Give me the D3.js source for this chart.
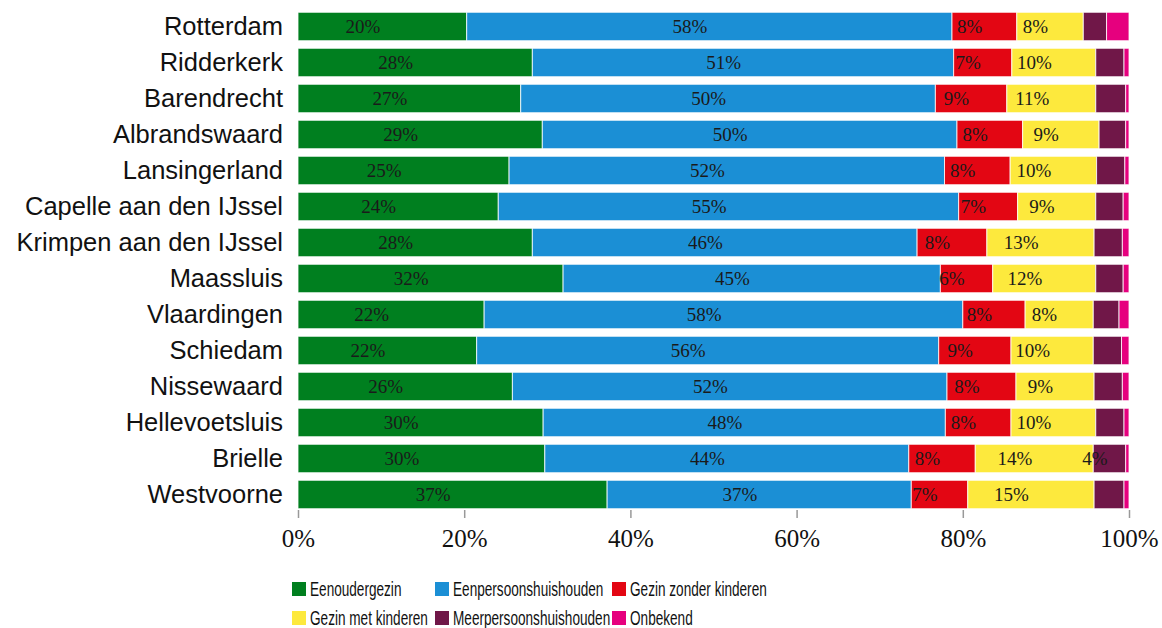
<!DOCTYPE html>
<html>
<head>
<meta charset="utf-8">
<script src="https://cdn.jsdelivr.net/npm/d3@7"></script>
<style>
  html, body { margin: 0; padding: 0; background: #fff; }
  svg { display: block; }
</style>
</head>
<body>
<svg id="chart" width="1162" height="628"></svg>
<script>
const categories = ["Rotterdam","Ridderkerk","Barendrecht","Albrandswaard","Lansingerland","Capelle aan den IJssel","Krimpen aan den IJssel","Maassluis","Vlaardingen","Schiedam","Nissewaard","Hellevoetsluis","Brielle","Westvoorne"];
const seriesNames = ["Eenoudergezin","Eenpersoonshuishouden","Gezin zonder kinderen","Gezin met kinderen","Meerpersoonshuishouden","Onbekend"];
const seriesColors = ["#007f1f","#1b8fd5","#e30613","#fde93d","#701748","#e6007e"];
const eenoudergezin = [20.3,28.2,26.8,29.4,25.4,24.1,28.2,31.9,22.4,21.5,25.8,29.5,29.7,37.2];
const eenpersoons   = [58.4,50.7,49.9,49.9,52.4,55.4,46.3,45.4,57.6,55.6,52.3,48.4,43.8,36.6];
const zonderKinderen= [7.8,7.0,8.6,7.9,7.9,7.1,8.4,6.3,7.5,8.7,8.3,7.9,8.0,6.8];
const metKinderen   = [8.0,10.1,10.7,9.2,10.4,9.4,12.9,12.4,8.2,9.9,9.4,10.2,14.2,15.2];
const meerpersoons  = [2.8,3.4,3.6,3.2,3.4,3.3,3.4,3.3,3.1,3.4,3.4,3.4,3.9,3.6];
const onbekend      = [2.7,0.6,0.4,0.4,0.5,0.7,0.8,0.7,1.2,0.9,0.8,0.6,0.4,0.6];
const tickValues = [0,20,40,60,80,100];
const labelThreshold = 3.8;

const seriesData = [eenoudergezin, eenpersoons, zonderKinderen, metKinderen, meerpersoons, onbekend];
const table = categories.map((c, i) => {
  const row = { cat: c };
  seriesNames.forEach((s, k) => row[s] = seriesData[k][i]);
  return row;
});
const stacked = d3.stack().keys(seriesNames)(table);

const svg = d3.select("#chart");
const x = d3.scaleLinear().domain([0, 100]).range([298, 1129]);
const y = d3.scaleBand().domain(categories).range([8.5, 512.5]).paddingInner(0.21).paddingOuter(0.105);
const color = d3.scaleOrdinal().domain(seriesNames).range(seriesColors);

const groups = svg.append("g").selectAll("g").data(stacked).join("g")
  .attr("fill", d => color(d.key));
groups.selectAll("rect").data(d => d).join("rect")
  .attr("x", d => x(d[0]))
  .attr("y", d => y(d.data.cat))
  .attr("width", d => Math.max(0, x(d[1]) - x(d[0])))
  .attr("height", y.bandwidth())
  .attr("stroke", "#fff")
  .attr("stroke-width", 1)
  .attr("stroke-opacity", 0.8);

// value labels
const labelG = svg.append("g");
stacked.forEach(s => {
  s.forEach(d => {
    const v = d.data[s.key];
    if (v >= labelThreshold) {
      labelG.append("text")
        .attr("x", (x(d[0]) + x(d[1])) / 2 - 2)
        .attr("y", y(d.data.cat) + y.bandwidth() / 2 + 6.5)
        .attr("text-anchor", "end")
        .attr("font-family", "'Liberation Serif', 'DejaVu Serif', serif")
        .attr("font-size", 19)
        .attr("fill", "#1a1a1a")
        .text(Math.round(v) + "%");
    }
  });
});

// category labels
svg.append("g").selectAll("text").data(categories).join("text")
  .attr("x", 283)
  .attr("y", d => y(d) + y.bandwidth() / 2 + 8)
  .attr("text-anchor", "end")
  .attr("font-family", "'Liberation Sans', Arial, sans-serif")
  .attr("font-size", 25.5)
  .attr("fill", "#111")
  .text(d => d);

// x axis
const axis = d3.axisBottom(x).tickValues(tickValues).tickFormat(d => d + "%").tickSize(8).tickPadding(11);
const ax = svg.append("g").attr("transform", "translate(0,510)").call(axis);
ax.select(".domain").remove();
ax.selectAll(".tick line").attr("stroke", "#999").attr("stroke-width", 1.5);
ax.selectAll(".tick text")
  .attr("font-family", "'Liberation Serif', 'DejaVu Serif', serif")
  .attr("font-size", 25)
  .attr("fill", "#111");

// legend (condensed sans)
const legendCols = [292, 435, 612];
const legendRows = [582, 611];
const lg = svg.append("g");
seriesNames.forEach((s, i) => {
  const cx = legendCols[i % 3], cy = legendRows[Math.floor(i / 3)];
  lg.append("rect").attr("x", cx).attr("y", cy).attr("width", 14).attr("height", 14).attr("fill", color(s));
  lg.append("text")
    .attr("transform", `translate(${cx + 18},${cy + 13.5}) scale(0.68,1)`)
    .attr("font-family", "'Liberation Sans', Arial, sans-serif")
    .attr("font-size", 20)
    .attr("fill", "#111")
    .text(s);
});
</script>
</body>
</html>
